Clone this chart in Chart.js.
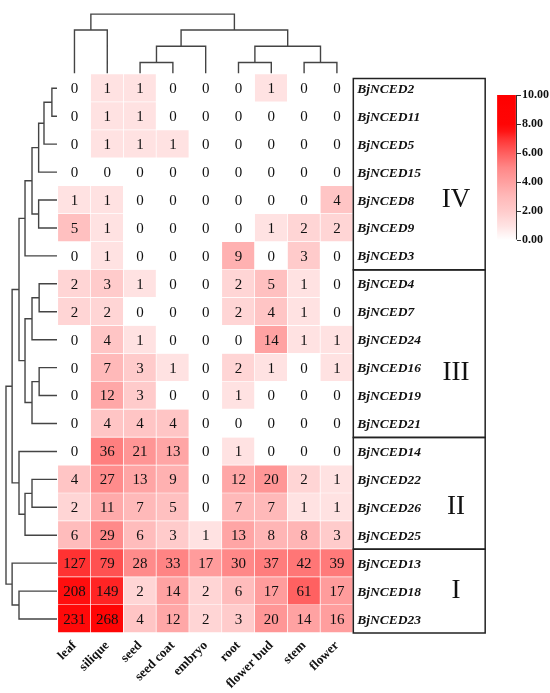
<!DOCTYPE html>
<html>
<head>
<meta charset="utf-8">
<script src="https://cdn.jsdelivr.net/npm/chart.js@4.4.1/dist/chart.umd.min.js"></script>
<style>
  html, body { margin: 0; padding: 0; background: #fff; }
  #wrap { width: 550px; height: 693px; position: relative; }
</style>
</head>
<body>
<div id="wrap"><canvas id="heatmap"></canvas></div>
<script>
// Expression heatmap of BjNCED genes across tissues
const tissues = ['leaf', 'silique', 'seed', 'seed coat', 'embryo', 'root', 'flower bud', 'stem', 'flower'];
const genes = ['BjNCED2', 'BjNCED11', 'BjNCED5', 'BjNCED15', 'BjNCED8', 'BjNCED9', 'BjNCED3',
  'BjNCED4', 'BjNCED7', 'BjNCED24', 'BjNCED16', 'BjNCED19', 'BjNCED21',
  'BjNCED14', 'BjNCED22', 'BjNCED26', 'BjNCED25',
  'BjNCED13', 'BjNCED18', 'BjNCED23'];
const expression = [
  [0, 1, 1, 0, 0, 0, 1, 0, 0],
  [0, 1, 1, 0, 0, 0, 0, 0, 0],
  [0, 1, 1, 1, 0, 0, 0, 0, 0],
  [0, 0, 0, 0, 0, 0, 0, 0, 0],
  [1, 1, 0, 0, 0, 0, 0, 0, 4],
  [5, 1, 0, 0, 0, 0, 1, 2, 2],
  [0, 1, 0, 0, 0, 9, 0, 3, 0],
  [2, 3, 1, 0, 0, 2, 5, 1, 0],
  [2, 2, 0, 0, 0, 2, 4, 1, 0],
  [0, 4, 1, 0, 0, 0, 14, 1, 1],
  [0, 7, 3, 1, 0, 2, 1, 0, 1],
  [0, 12, 3, 0, 0, 1, 0, 0, 0],
  [0, 4, 4, 4, 0, 0, 0, 0, 0],
  [0, 36, 21, 13, 0, 1, 0, 0, 0],
  [4, 27, 13, 9, 0, 12, 20, 2, 1],
  [2, 11, 7, 5, 0, 7, 7, 1, 1],
  [6, 29, 6, 3, 1, 13, 8, 8, 3],
  [127, 79, 28, 33, 17, 30, 37, 42, 39],
  [208, 149, 2, 14, 2, 6, 17, 61, 17],
  [231, 268, 4, 12, 2, 3, 20, 14, 16]
];
const colorTicks = [0, 2, 4, 6, 8, 10];

// clusters: [left, right, distance], leaves are row / column indices
const geneTree = [
  [
    [
      [[[[[0, 1, 0.10], 2, 0.255], 3, 0.36], [4, 5, 0.36], 0.49], 6, 0.627],
      [[[7, 8, 0.35], 9, 0.49], [[10, 11, 0.35], 12, 0.49], 0.627],
      0.745
    ],
    [13, [[14, 15, 0.49], 16, 0.627], 0.745],
    0.88
  ],
  [17, [18, 19, 0.745], 0.88],
  1.0
];
const tissueTree = [[0, 1, 0.733], [[[2, 3, 0.183], 4, 0.457], [[5, 6, 0.183], [7, 8, 0.183], 0.457], 0.733], 1.0];

const groups = [
  { name: 'IV', from: 0, to: 7 },
  { name: 'III', from: 7, to: 13 },
  { name: 'II', from: 13, to: 17 },
  { name: 'I', from: 17, to: 20 }
];

const serif = '"Liberation Serif", "Times New Roman", serif';

// white -> red, on log2(x + 1)
const gStops = [[0, 255], [1, 226], [2, 203], [3, 185], [4, 160], [5, 135], [6, 95], [7, 50], [7.5, 20], [8, 5], [10, 0]];
function heatColor(t) {
  t = Math.max(0, Math.min(10, t));
  let g = 0;
  for (let i = 1; i < gStops.length; i++) {
    const [t0, g0] = gStops[i - 1], [t1, g1] = gStops[i];
    if (t <= t1) { g = g0 + (g1 - g0) * (t - t0) / (t1 - t0); break; }
  }
  g = Math.round(g);
  return `rgb(255,${g},${g})`;
}

function treeSegments(node, out) {
  if (!Array.isArray(node)) return { pos: node + 0.5, h: 0 };
  const a = treeSegments(node[0], out), b = treeSegments(node[1], out), h = node[2];
  out.push([[a.pos, a.h], [a.pos, h], [b.pos, h], [b.pos, b.h]]);
  return { pos: (a.pos + b.pos) / 2, h: h };
}
// side tree grows to the left: distance goes on a negative axis
function treePoints(tree, side) {
  const segs = [];
  treeSegments(tree, segs);
  const pts = [];
  segs.forEach(s => {
    s.forEach(([p, h]) => pts.push(side ? { x: -h, y: p } : { x: p, y: h }));
    pts.push(side ? { x: -s[3][1], y: null } : { x: s[3][0], y: null });
  });
  return pts;
}

const cells = [], cellColors = [];
expression.forEach((row, r) => row.forEach((v, c) => {
  cells.push({ x: c + 0.5, y: [r, r + 1] });
  cellColors.push(heatColor(Math.log2(v + 1)));
}));

const overlay = {
  id: 'overlay',
  afterDatasetsDraw(chart) {
    const { ctx, scales: { x, y } } = chart;
    ctx.save();
    ctx.fillStyle = '#111';
    ctx.textBaseline = 'middle';

    ctx.textAlign = 'center';
    ctx.font = '15px ' + serif;
    expression.forEach((row, r) => row.forEach((v, c) => {
      ctx.fillText(String(Math.round(v)), x.getPixelForValue(c + 0.5), y.getPixelForValue(r + 0.5) + 1);
    }));

    const boxLeft = x.getPixelForValue(tissues.length);
    const boxRight = x.getPixelForValue(13.02);
    ctx.textAlign = 'left';
    ctx.font = 'italic bold 13.5px ' + serif;
    genes.forEach((g, r) => ctx.fillText(g, boxLeft + 4, y.getPixelForValue(r + 0.5) + 1));

    ctx.strokeStyle = '#222';
    ctx.lineWidth = 1.5;
    groups.forEach(g => {
      const top = y.getPixelForValue(g.from === 0 ? 0.15 : g.from);
      const bottom = y.getPixelForValue(g.to);
      ctx.strokeRect(boxLeft, top, boxRight - boxLeft, bottom - top);
    });

    const numeralRow = { IV: 4.5, III: 10.7, II: 15.5, I: 18.5 };
    ctx.textAlign = 'center';
    ctx.font = '27px ' + serif;
    groups.forEach(g => ctx.fillText(g.name, x.getPixelForValue(12.13), y.getPixelForValue(numeralRow[g.name])));
    ctx.restore();
  }
};

function barGradient(c) {
  const chart = c.chart, sc = chart.scales.yc;
  const p0 = sc ? sc.getPixelForValue(0) : NaN, p1 = sc ? sc.getPixelForValue(10) : NaN;
  if (!isFinite(p0) || !isFinite(p1) || p0 === p1) return heatColor(5);
  const g = chart.ctx.createLinearGradient(0, p0, 0, p1);
  for (let t = 0; t <= 10; t += 0.5) g.addColorStop(t / 10, heatColor(t));
  return g;
}

const ctx = document.getElementById('heatmap').getContext('2d');
const heatmap = new Chart(ctx, {
  type: 'bar',
  data: {
    datasets: [
      {
        label: 'expression',
        data: cells,
        backgroundColor: cellColors,
        borderColor: '#ffffff',
        borderWidth: { top: 0, left: 0, right: 1, bottom: 1 },
        borderSkipped: false,
        grouped: false,
        barPercentage: 1,
        categoryPercentage: 1,
        xAxisID: 'x',
        yAxisID: 'y'
      },
      {
        label: 'scale',
        data: [{ x: 13.687, y: [0, 10] }],
        backgroundColor: barGradient,
        borderColor: '#333',
        borderWidth: { top: 0, left: 0, right: 1.2, bottom: 0 },
        borderSkipped: false,
        grouped: false,
        barPercentage: 0.61,
        categoryPercentage: 1,
        xAxisID: 'x',
        yAxisID: 'yc'
      },
      {
        type: 'line',
        label: 'gene tree',
        data: treePoints(geneTree, true),
        xAxisID: 'xd',
        yAxisID: 'y',
        borderColor: '#444',
        borderWidth: 1.4,
        pointRadius: 0,
        tension: 0,
        fill: false,
        spanGaps: false
      },
      {
        type: 'line',
        label: 'tissue tree',
        data: treePoints(tissueTree, false),
        xAxisID: 'x',
        yAxisID: 'yd',
        borderColor: '#444',
        borderWidth: 1.4,
        pointRadius: 0,
        tension: 0,
        fill: false,
        spanGaps: false
      }
    ]
  },
  options: {
    responsive: true,
    maintainAspectRatio: false,
    animation: false,
    layout: { padding: 0 },
    plugins: {
      legend: { display: false },
      tooltip: { enabled: false }
    },
    scales: {
      x: {
        type: 'linear',
        position: 'bottom',
        min: -1.77,
        max: 13.99,
        bounds: 'data',
        offset: false,
        afterBuildTicks: (s) => { s.ticks = tissues.map((_, i) => ({ value: i + 0.5 })); },
        afterFit: (s) => { s.height = 60; },
        grid: { display: false, drawTicks: false },
        border: { display: false },
        ticks: {
          autoSkip: false,
          minRotation: 45,
          maxRotation: 45,
          padding: 5,
          color: '#111',
          font: { family: serif, size: 13, weight: 'bold' },
          callback: (v, i) => tissues[i]
        }
      },
      xd: {
        type: 'linear',
        display: false,
        position: 'bottom',
        offset: false,
        min: -1.1176,
        max: 9.02,
        bounds: 'data',
        grace: 0
      },
      y: {
        type: 'linear',
        display: false,
        reverse: true,
        min: -2.367,
        max: 20,
        bounds: 'data',
        stacked: false
      },
      yc: {
        type: 'linear',
        position: 'right',
        min: -27.075,
        max: 15.986,
        bounds: 'data',
        stacked: false,
        afterBuildTicks: (s) => { s.ticks = colorTicks.map(v => ({ value: v })); },
        afterFit: (s) => { s.width = 33; },
        border: { display: false },
        grid: { drawOnChartArea: false, drawTicks: true, tickLength: 4, color: '#333', lineWidth: 1 },
        ticks: {
          padding: 1,
          color: '#111',
          font: { family: serif, size: 12, weight: 'bold' },
          callback: (v) => Number(v).toFixed(2)
        }
      },
      yd: {
        type: 'linear',
        display: false,
        min: -9.45,
        max: 1.1,
        bounds: 'data',
        stacked: false
      }
    }
  },
  plugins: [overlay]
});
</script>
</body>
</html>
